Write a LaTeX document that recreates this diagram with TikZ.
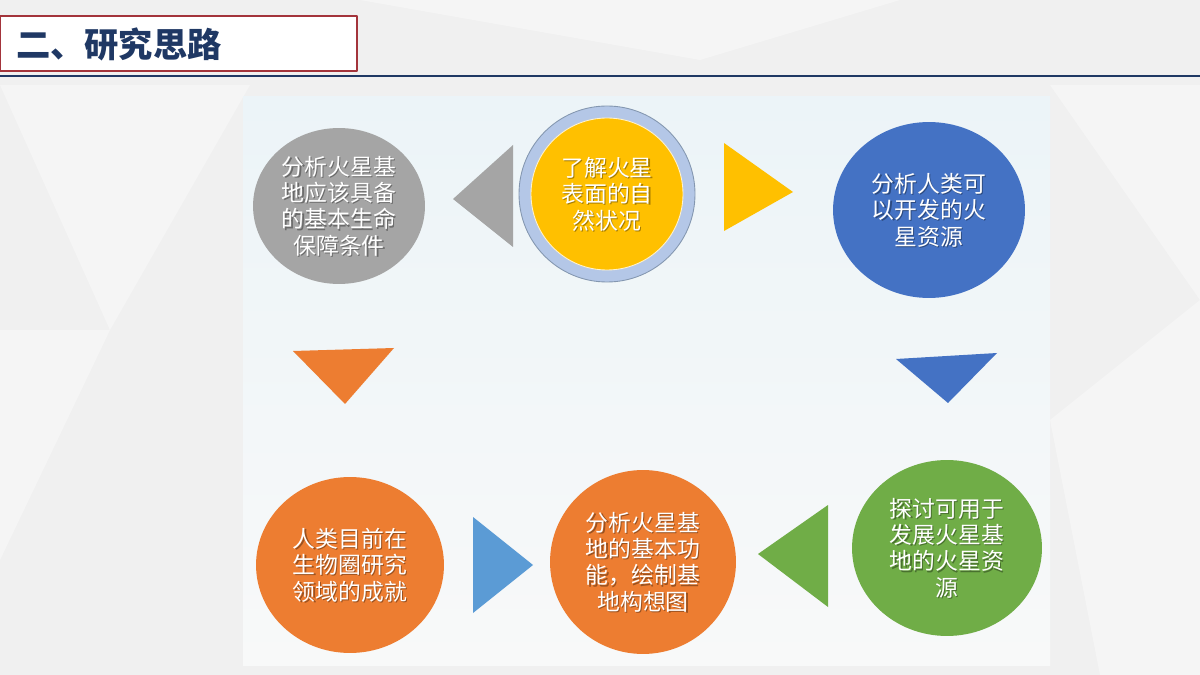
\documentclass[tikz,border=0pt]{standalone}
\usepackage{fontspec}
\setmainfont{Noto Sans CJK SC}
\usetikzlibrary{shapes.geometric}
\definecolor{slidebg}{HTML}{F0F0F0}
\definecolor{panelTop}{HTML}{ECF4F8}
\definecolor{panelBot}{HTML}{F8F9F9}
\definecolor{navy}{HTML}{1F3864}
\definecolor{titleRed}{HTML}{A3343B}
\definecolor{cGray}{HTML}{A5A5A5}
\definecolor{cYellow}{HTML}{FFC000}
\definecolor{cRing}{HTML}{B4C7E7}
\definecolor{cRingEdge}{HTML}{8497B0}
\definecolor{cBlue}{HTML}{4472C4}
\definecolor{cSky}{HTML}{5B9BD5}
\definecolor{cOrange}{HTML}{ED7D31}
\definecolor{cGreen}{HTML}{70AD47}
\begin{document}
\begin{tikzpicture}[x=0.02cm,y=-0.02cm,line join=round,
    bubble/.style={ellipse,inner sep=0pt,draw=none},
    word/.style={align=center,text=white,font=\fontsize{13}{15}\selectfont},
    wordshade/.style={word,text=black,opacity=.35}]
  \useasboundingbox (0,0) rectangle (1200,675);
  \fill[slidebg] (0,0) rectangle (1200,675);
  \fill[white,opacity=.35] (0,85)--(250,85)--(110,330)--cycle
    (0,330)--(110,330)--(0,560)--cycle
    (1050,85)--(1200,85)--(1200,300)--cycle
    (1050,420)--(1200,300)--(1200,675)--(1100,675)--cycle
    (360,0)--(900,0)--(700,60)--cycle;
  \shade[top color=panelTop,bottom color=panelBot] (243,97) rectangle (1050,665);
  % title
  \draw[titleRed,fill=white,line width=.6pt] (0,16) rectangle (357,71);
  \node[anchor=west,text=navy,font=\fontsize{19.5}{20}\selectfont\bfseries] (title) at (10,44) {二、研究思路};
  \draw[navy,line width=1.2pt] (0,76) -- (1200,76);
  % ring
  \node[bubble,fill=cRing,draw=cRingEdge,line width=.5pt,minimum size=176*0.02cm] (ring) at (607,194) {};
  \node[bubble,fill=cYellow,draw=white!80!cYellow,line width=.5pt,minimum size=152*0.02cm] (nat) at (ring) {};
  \node[wordshade] at ([shift={(1.2,1.2)}]nat) {了解火星\\表面的自\\然状况};
  \node[word] (nat-t) at (nat) {了解火星\\表面的自\\然状况};
  \foreach \n/\x/\y/\rx/\ry/\c/\t in {
    life/339/206/86/78/cGray/{分析火星基\\地应该具备\\的基本生命\\保障条件},
    res/929/210/96/88/cBlue/{分析人类可\\以开发的火\\星资源},
    use/947/548/95/88/cGreen/{探讨可用于\\发展火星基\\地的火星资\\源},
    func/643/562/93/92/cOrange/{分析火星基\\地的基本功\\能，绘制基\\地构想图},
    bio/350/565/94/88/cOrange/{人类目前在\\生物圈研究\\领域的成就}}
  {
    \node[bubble,fill=\c,minimum width=\rx*0.04cm,minimum height=\ry*0.04cm] (\n) at (\x,\y) {};
    \node[wordshade] at ([shift={(1.2,1.2)}]\n) {\t};
    \node[word] (\n-t) at (\n) {\t};
  }
  % pointers
  \foreach \c/\a/\b/\d in {cGray/{453,199}/{513,145}/{513,247},
    cYellow/{724,143}/{724,231}/{793,192},
    cBlue/{896,359}/{997,353}/{948,403},
    cGreen/{758,554}/{828,505}/{828,607},
    cSky/{533,565}/{473,517}/{473,613},
    cOrange/{293,351}/{394,348}/{345,404}}
  \fill[\c] (\a)--(\b)--(\d)--cycle;
\end{tikzpicture}
\end{document}
